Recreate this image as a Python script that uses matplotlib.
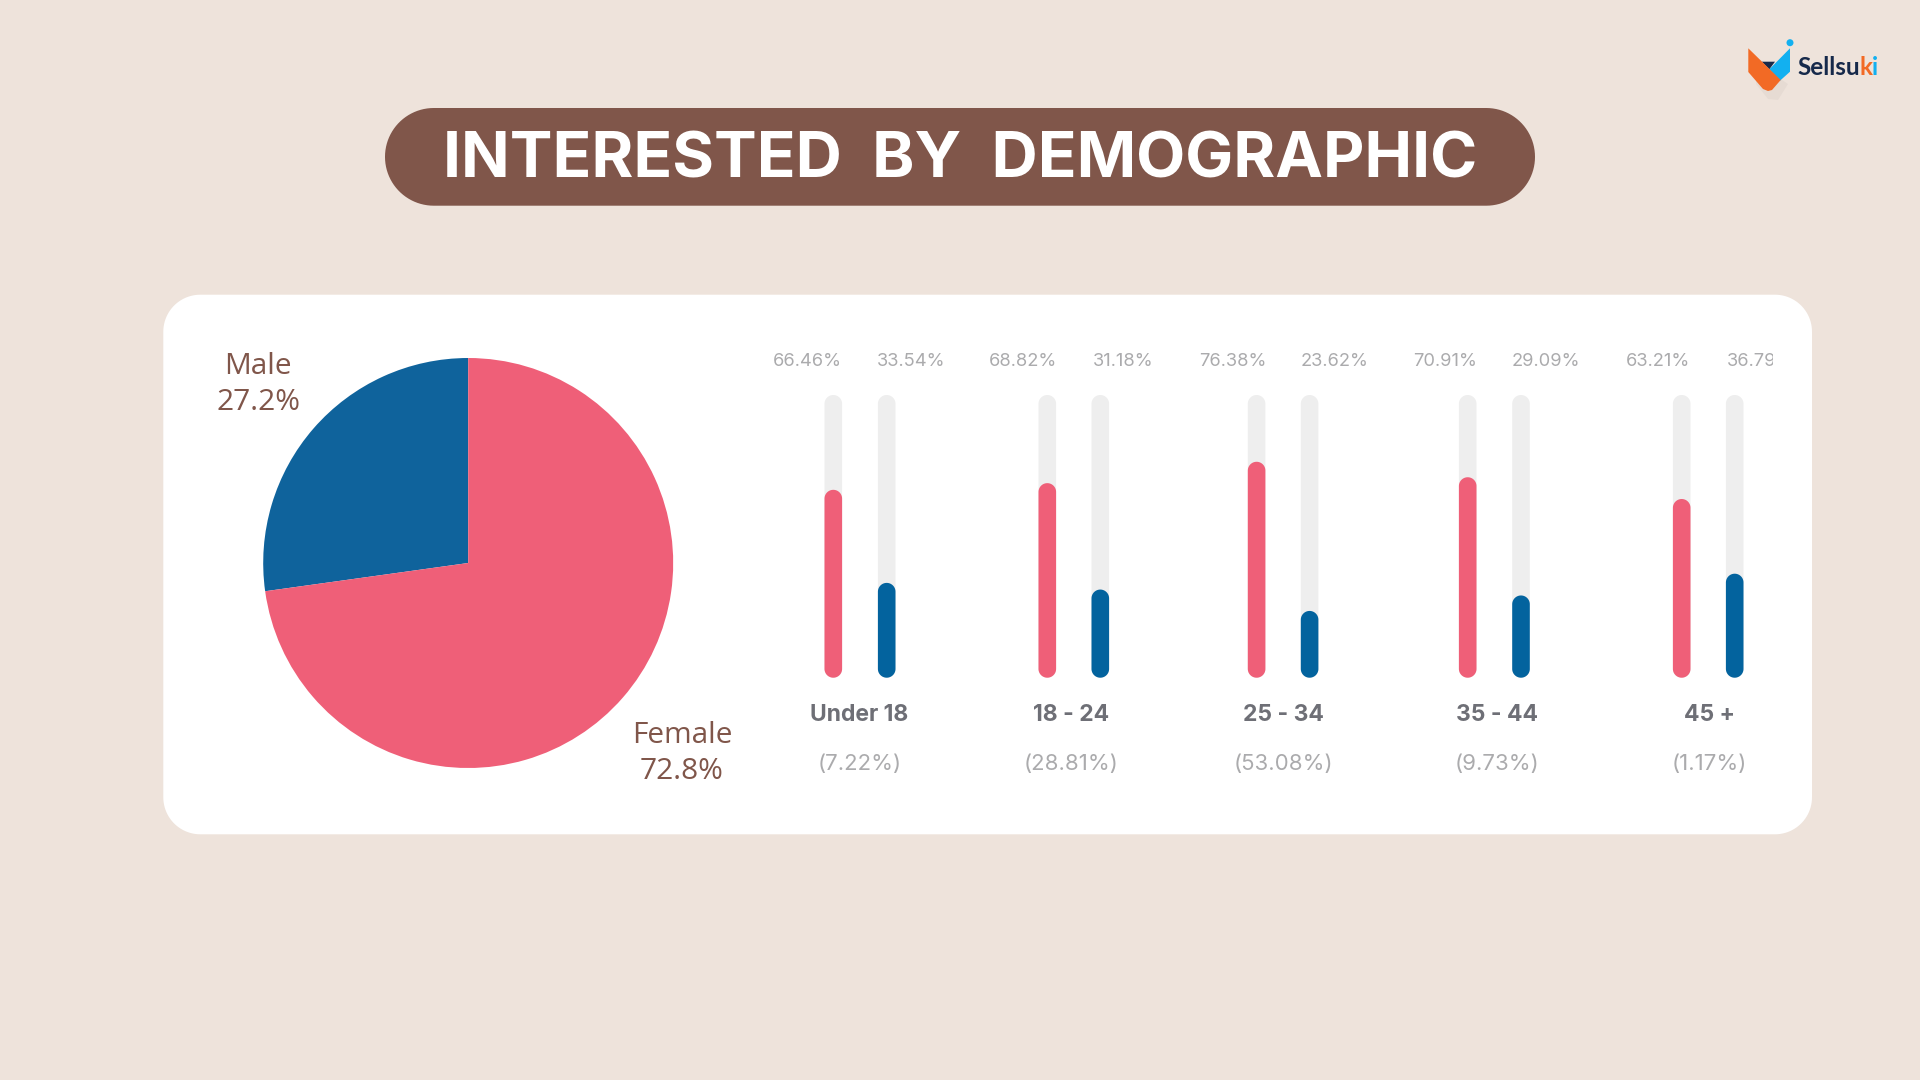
import numpy as np
import matplotlib
matplotlib.use("Agg")
import matplotlib.pyplot as plt
from matplotlib.patches import Polygon, Circle, Rectangle

# ---- data ----
gender_labels = ["Male", "Female"]
gender_share = [27.2, 72.8]
age_groups = ["Under 18", "18 - 24", "25 - 34", "35 - 44", "45 +"]
age_share = ["(7.22%)", "(28.81%)", "(53.08%)", "(9.73%)", "(1.17%)"]
female_pct = [66.46, 68.82, 76.38, 70.91, 63.21]
male_pct = [33.54, 31.18, 23.62, 29.09, 36.79]

# ---- style / layout ----
BG = "#EEE3DB"; BROWN = "#80564A"; PINK = "#EF5F78"; BLUE_PIE = "#0F639C"
BLUE_BAR = "#03639E"; TRACK = "#EEEEEE"; GREY = "#ABABAD"; DARK_GREY = "#6E6F76"
W, H = 1920, 1080
x_f = [833.3, 1047.3, 1256.6, 1467.7, 1681.7]
x_m = [886.7, 1100.3, 1309.6, 1521.0, 1734.7]
x_lab_f = [807.3, 1022.7, 1233.0, 1445.0, 1657.7]
x_lab_m = [911.0, 1123.3, 1334.7, 1546.0, 1702.0]
x_cat = [859.3, 1071.3, 1283.0, 1496.7, 1709.3]
CLIP_RIGHT = 1773
BAR_W = 17.6
BAR_TOP, BAR_BOT = 395.0, 677.7
BAR_L, BAR_R = 760.0, 1800.0

plt.rcParams["font.family"] = ["Inter", "DejaVu Sans"]
fig = plt.figure(figsize=(W / 100, H / 100), dpi=100, facecolor=BG)


def axes_px(l, t, r, b, **kw):
    return fig.add_axes([l / W, 1 - b / H, (r - l) / W, (b - t) / H], **kw)


def round_rect(x0, y0, x1, y1, r, yscale=1.0):
    """Outline of a rectangle with true circular corners; yscale maps px radius to y units."""
    ry = r * yscale
    r = min(r, (x1 - x0) / 2)
    ry = min(ry, abs(y1 - y0) / 2)
    t = np.linspace(0, np.pi / 2, 24)
    c, s = np.cos(t), np.sin(t)
    xs = np.concatenate([x1 - r + r * c, x0 + r - r * s, x0 + r - r * c, x1 - r + r * s])
    ys = np.concatenate([y1 - ry + ry * s, y1 - ry + ry * c, y0 + ry - ry * s, y0 + ry - ry * c])
    return np.column_stack([xs, ys])


bg = axes_px(0, 0, W, H)
bg.set_xlim(0, W); bg.set_ylim(H, 0); bg.axis("off")

# card and title pill
bg.add_patch(Polygon(round_rect(163.3, 294.7, 1812, 834.3, 37), closed=True, fc="white", ec="none"))
bg.add_patch(Polygon(round_rect(385, 108, 1535, 205.7, 48.8), closed=True, fc=BROWN, ec="none"))
bg.text(960.6, 177.7, "INTERESTED  BY  DEMOGRAPHIC", color="white", fontsize=46,
        fontweight="bold", family=["Inter", "DejaVu Sans"], ha="center", va="baseline")

# logo
bg.add_patch(Polygon([(1756, 62), (1788, 84), (1778, 100), (1768, 99), (1756, 84)],
                     closed=True, fc="#B9B0AA", ec="none", alpha=0.15))
bg.add_patch(Polygon([(1790, 48.3), (1790, 71.7), (1780, 80.7), (1769.3, 69.3)],
                     closed=True, fc="#12B0F0", ec="none"))
bg.add_patch(Polygon([(1761.7, 61.7), (1775, 61.7), (1769.3, 69.3)],
                     closed=True, fc="#16294A", ec="none"))
bg.add_patch(Polygon([(1748.3, 48.3), (1780.7, 80), (1772, 90), (1768, 91), (1763, 89),
                      (1748.3, 72)], closed=True, fc="#F26A25", ec="none"))
bg.add_patch(Circle((1790, 42.7), 3.5, fc="#12B0F0", ec="none"))
logo_x = 1797.5
logo_y = 75.0
fig.canvas.draw()
renderer = fig.canvas.get_renderer()
for part, col in [("Sellsu", "#16294A"), ("k", "#F26A25"), ("i", "#12B0F0")]:
    t = bg.text(logo_x, logo_y, part, color=col, fontsize=17.5, fontweight="bold",
                family=["Lato", "DejaVu Sans"], ha="left", va="baseline")
    logo_x = t.get_window_extent(renderer).x1 - 0.5

# pie
pie_ax = axes_px(468.2 - 205, 563 - 205.5, 468.2 + 205, 563 + 205.5)
pie_ax.pie(gender_share, colors=[BLUE_PIE, PINK], startangle=90, counterclock=True,
           wedgeprops={"linewidth": 0})
pie_ax.set_xlim(-1, 1); pie_ax.set_ylim(-1, 1)
for name, val, x, y1, y2 in zip(gender_labels, gender_share, [258, 682], [374, 743], [410, 779]):
    bg.text(x, y1, name, color=BROWN, fontsize=21.5, family=["Open Sans", "DejaVu Sans"],
            ha="center", va="baseline")
    bg.text(x, y2, f"{val}%", color=BROWN, fontsize=21.5, family=["Open Sans", "DejaVu Sans"],
            ha="center", va="baseline")

# bars
bar_ax = axes_px(BAR_L, BAR_TOP, BAR_R, BAR_BOT)
bar_ax.set_xlim(BAR_L, BAR_R); bar_ax.set_ylim(0, 100); bar_ax.axis("off")
y_per_px = 100.0 / (BAR_BOT - BAR_TOP)


def pill(xc, value, color, z):
    outline = round_rect(xc - BAR_W / 2, 0, xc + BAR_W / 2, value, BAR_W / 2, y_per_px)
    bar_ax.add_patch(Polygon(outline, closed=True, fc=color, ec="none", zorder=z))


for xc, v in zip(x_f, female_pct):
    pill(xc, 100, TRACK, 1)
    pill(xc, v, PINK, 2)
for xc, v in zip(x_m, male_pct):
    pill(xc, 100, TRACK, 1)
    pill(xc, v, BLUE_BAR, 2)

# labels
clip = Rectangle((0, 0), CLIP_RIGHT, H, transform=bg.transData)
for i in range(len(age_groups)):
    bg.text(x_lab_f[i], 361, f"{female_pct[i]:.2f}%", color=GREY, fontsize=13.2,
            ha="center", va="center")
    tm = bg.text(x_lab_m[i] if i < 4 else 1726.7, 361, f"{male_pct[i]:.2f}%", color=GREY, fontsize=13.2,
                 ha="center" if i < 4 else "left", va="center")
    tm.set_clip_path(clip)
    tm.set_clip_on(True)
    bg.text(x_cat[i], 715.2, age_groups[i], color=DARK_GREY, fontsize=16.5,
            fontweight="bold", ha="center", va="center")
    bg.text(x_cat[i], 763.7, age_share[i], color=GREY, fontsize=16,
            ha="center", va="center")

fig.savefig("out.png", dpi=100, facecolor=BG)
